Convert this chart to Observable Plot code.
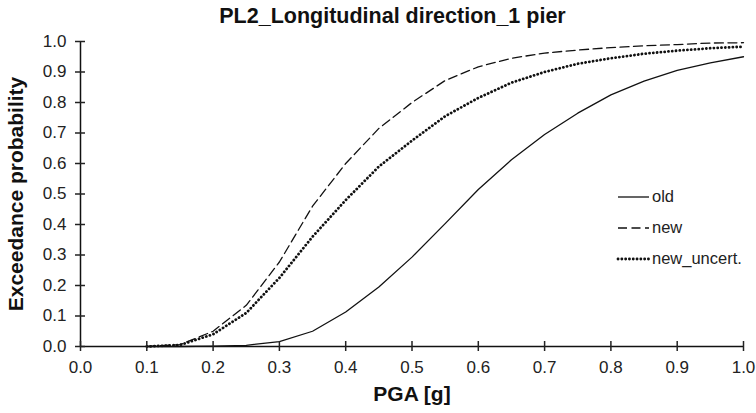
<!DOCTYPE html>
<html><head><meta charset="utf-8">
<script src="https://cdn.jsdelivr.net/npm/d3@7"></script>
<script src="https://cdn.jsdelivr.net/npm/@observablehq/plot@0.6"></script>
<style>
body{margin:0;background:#fff;font-family:"Liberation Sans",Arial,sans-serif;}
#wrap{position:relative;width:756px;height:413px;}
#title{position:absolute;left:61px;width:663px;top:4px;text-align:center;font-weight:bold;font-size:21.5px;color:#111;white-space:nowrap;}
#legend{position:absolute;left:616px;top:181px;font-size:16.5px;color:#222;}
.row{display:flex;align-items:center;height:31px;}
.row svg{margin-right:2px;}
g[aria-label="x-axis label"] text, g[aria-label="y-axis label"] text{font-weight:bold;font-size:21px;fill:#111;}
</style></head><body>
<div id="wrap"><div id="chart"></div><div id="title">PL2_Longitudinal direction_1 pier</div><div id="legend"></div></div>
<script>
const pga        = [0.1, 0.15, 0.2, 0.25, 0.3, 0.35, 0.4, 0.45, 0.5, 0.55, 0.6, 0.65, 0.7, 0.75, 0.8, 0.85, 0.9, 0.95, 1.0];
const oldP       = [0, 0, 0.001, 0.004, 0.016, 0.05, 0.113, 0.195, 0.293, 0.403, 0.515, 0.612, 0.695, 0.765, 0.825, 0.87, 0.905, 0.93, 0.95];
const newP       = [0, 0.006, 0.05, 0.135, 0.277, 0.46, 0.60, 0.715, 0.80, 0.872, 0.917, 0.945, 0.962, 0.972, 0.98, 0.986, 0.99, 0.995, 0.996];
const newUncertP = [0, 0.005, 0.04, 0.11, 0.225, 0.36, 0.48, 0.59, 0.675, 0.755, 0.815, 0.865, 0.9, 0.927, 0.945, 0.96, 0.97, 0.978, 0.983];
const seriesNames = ["old", "new", "new_uncert."];
const xTicks = [0, 0.1, 0.2, 0.3, 0.4, 0.5, 0.6, 0.7, 0.8, 0.9, 1.0];
const yTicks = [0, 0.1, 0.2, 0.3, 0.4, 0.5, 0.6, 0.7, 0.8, 0.9, 1.0];

const seriesValues = [oldP, newP, newUncertP];
const styles = {
  "old": {stroke: "#111", strokeWidth: 1.3},
  "new": {stroke: "#111", strokeWidth: 1.3, strokeDasharray: "9,4.5"},
  "new_uncert.": {stroke: "#111", strokeWidth: 2.8, strokeDasharray: "0.1,3.7", strokeLinecap: "round"}
};
const rows = seriesNames.flatMap((s, k) => pga.map((x, i) => ({x, y: seriesValues[k][i], s})));

const chart = Plot.plot({
  width: 756, height: 413,
  marginLeft: 80, marginRight: 13, marginTop: 41, marginBottom: 67,
  style: {fontFamily: "'Liberation Sans', Arial, sans-serif", fontSize: "17px", color: "#222", background: "#fff"},
  x: {domain: [0, 1]},
  y: {domain: [0, 1]},
  marks: [
    ...seriesNames.map(s => Plot.line(rows.filter(d => d.s === s), {x: "x", y: "y", ...styles[s]})),
    Plot.ruleX([0], {stroke: "#111", strokeWidth: 1.5}),
    Plot.ruleY([0], {stroke: "#111", strokeWidth: 1.5}),
    Plot.axisX(xTicks, {tickSize: 10, dy: -5, strokeWidth: 1.5, tickFormat: () => "", label: null}),
    Plot.axisY(yTicks, {tickSize: 10, dx: 5, strokeWidth: 1.5, tickFormat: () => "", label: null}),
    Plot.axisX(xTicks, {tickSize: 0, tickPadding: 14, tickFormat: d => d.toFixed(1), label: "PGA [g]", labelAnchor: "center", labelArrow: "none", labelOffset: 54}),
    Plot.axisY(yTicks, {tickSize: 0, tickPadding: 14, tickFormat: d => d.toFixed(1), label: "Exceedance probability", labelAnchor: "center", labelArrow: "none", labelOffset: 72})
  ]
});
document.getElementById("chart").appendChild(chart);

const legend = document.getElementById("legend");
seriesNames.forEach(s => {
  const st = styles[s];
  const row = document.createElement("div");
  row.className = "row";
  row.innerHTML = `<svg width="34" height="8"><line x1="2" y1="4" x2="33" y2="4" stroke="${st.stroke}" stroke-width="${st.strokeWidth}" ${st.strokeDasharray ? `stroke-dasharray="${st.strokeDasharray}"` : ""} ${st.strokeLinecap ? `stroke-linecap="${st.strokeLinecap}"` : ""}/></svg><span>${s}</span>`;
  legend.appendChild(row);
});
</script>
</body></html>
